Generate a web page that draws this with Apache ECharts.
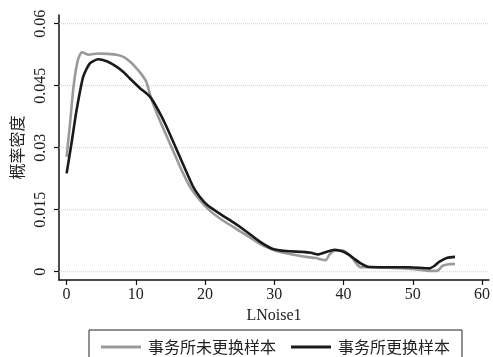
<!DOCTYPE html>
<html><head><meta charset="utf-8">
<script src="https://cdn.jsdelivr.net/npm/echarts@6/dist/echarts.min.js"></script>
<style>html,body{margin:0;padding:0;background:#fff}#c{width:493px;height:357px}</style>
</head><body><div id="c"></div>
<script>
const seriesNames = ['事务所未更换样本', '事务所更换样本'];
const grayX = [0,0.5,1,1.6,2.2,3.2,4.5,6,7.4,8.4,9.3,10.1,10.8,11.5,12.2,13.4,14.4,15.4,16.6,17.8,19.2,20.6,22.3,24,25.9,27.4,28.8,30.2,31.7,33.2,34.6,36,37.4,38,38.7,39.9,40.6,41.3,42.3,43,46.1,49.9,52.6,53.5,54.3,55.2,56.1];
const grayY = [0.0278,0.036,0.0448,0.051,0.0531,0.0525,0.0528,0.0527,0.0524,0.0518,0.0506,0.0492,0.0478,0.046,0.042,0.0368,0.033,0.0292,0.0246,0.0206,0.0174,0.0149,0.0127,0.0109,0.0089,0.0073,0.006,0.0051,0.0045,0.004,0.0036,0.0033,0.0028,0.0042,0.0051,0.0051,0.0044,0.0032,0.0012,0.0011,0.001,0.0007,0.0002,0.0002,0.0014,0.0018,0.0019];
const blackX = [0,0.7,1.44,2.4,3.36,4.55,5.8,7.2,8.2,9.1,10.6,12,13.2,14.4,16.3,18.2,19.2,20.4,22.6,24.2,25.9,27.9,29.8,31.7,34.1,35.3,36.3,37.5,38.7,39.9,40.8,41.5,42.5,43.5,46.1,49.5,52.4,53.2,53.8,55,56.1];
const blackY = [0.0238,0.031,0.0391,0.0472,0.0504,0.0514,0.0509,0.0496,0.0483,0.0468,0.0444,0.0424,0.0392,0.0352,0.028,0.0208,0.0182,0.016,0.0135,0.0118,0.0098,0.0073,0.0055,0.005,0.0048,0.0046,0.0042,0.0048,0.0053,0.0049,0.0041,0.0032,0.002,0.0012,0.0011,0.0011,0.0008,0.0015,0.0024,0.0034,0.0036];
const xTicks = [0,10,20,30,40,50,60];
const yTicks = [0,0.015,0.03,0.045,0.06];
const xName = 'LNoise1';
const yName = '概率密度';
const xRange = [-1.1, 61];
const yRange = [-0.002, 0.0621];

const pairs = (xs, ys) => xs.map((x, i) => [x, ys[i]]);
const chart = echarts.init(document.getElementById('c'), null, {renderer: 'canvas'});
const serif = '"Liberation Serif","DejaVu Serif",serif';
const cjk = '"Noto Sans CJK SC","Liberation Serif",serif';
const gridSeries = yTicks.map(v => ({
  name: 'g' + v, type: 'line', z: 1, silent: true, showSymbol: false, symbol: 'none',
  data: [[xRange[0], v], [xRange[1], v]],
  lineStyle: {type: 'dotted', color: '#cfcfcf', width: 1}
}));
chart.setOption({
  animation: false,
  backgroundColor: '#fff',
  grid: {left: 59, right: 3, top: 15, bottom: 77, containLabel: false},
  xAxis: {
    type: 'value', min: xRange[0], max: xRange[1],
    name: xName, nameLocation: 'middle', nameGap: 24,
    nameTextStyle: {fontFamily: serif, fontSize: 16, color: '#222'},
    axisLine: {show: true, onZero: false, lineStyle: {color: '#111', width: 1.5}},
    axisTick: {show: true, length: 5, lineStyle: {color: '#111', width: 1.2}, customValues: xTicks},
    axisLabel: {fontFamily: serif, fontSize: 16, color: '#222', margin: 7, customValues: xTicks},
    splitLine: {show: false}
  },
  yAxis: {
    type: 'value', min: yRange[0], max: yRange[1],
    name: yName, nameLocation: 'middle', nameGap: 34, nameRotate: 90,
    nameTextStyle: {fontFamily: cjk, fontSize: 16, color: '#222'},
    axisLine: {show: true, onZero: false, lineStyle: {color: '#111', width: 1.5}},
    axisTick: {show: true, length: 5, lineStyle: {color: '#111', width: 1.2}, customValues: yTicks},
    axisLabel: {fontFamily: serif, fontSize: 16, color: '#222', margin: 10, rotate: 90, customValues: yTicks},
    splitLine: {show: false}
  },
  legend: {
    data: seriesNames.map(n => ({name: n, icon: 'rect'})),
    left: 89, top: 330,
    padding: [9, 12, 30, 12],
    itemGap: 15, itemWidth: 40, itemHeight: 3,
    borderColor: '#222', borderWidth: 1,
    textStyle: {fontFamily: cjk, fontSize: 16, color: '#222', padding: [0, 0, 0, 2]}
  },
  series: gridSeries.concat([
    {
      name: seriesNames[0], type: 'line', data: pairs(grayX, grayY), z: 3,
      showSymbol: false, symbol: 'none', smooth: 0.2,
      lineStyle: {color: '#9a9a9a', width: 2.6}, itemStyle: {color: '#9a9a9a'}
    },
    {
      name: seriesNames[1], type: 'line', data: pairs(blackX, blackY), z: 4,
      showSymbol: false, symbol: 'none', smooth: 0.2,
      lineStyle: {color: '#1a1a1a', width: 2.6}, itemStyle: {color: '#1a1a1a'}
    }
  ])
});
</script></body></html>
